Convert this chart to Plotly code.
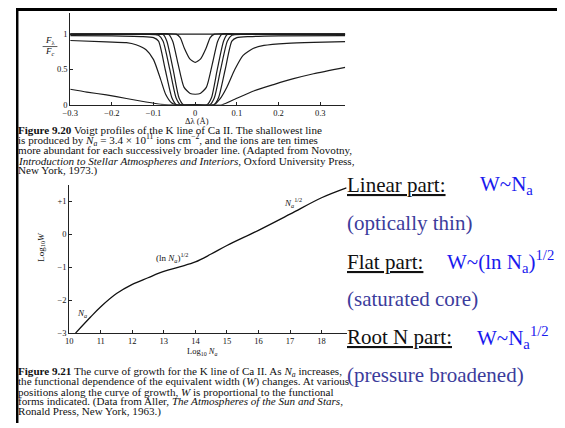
import plotly.graph_objects as go

# ---------------- data: Figure 9.20 Voigt profiles (delta lambda in Angstrom, F_lambda/F_c) -------------
cont_dl = [-0.30, 0.36]
cont_f = [1.0, 1.0]

p0_dl = [-0.30, -0.10, -0.046, -0.036, -0.026, -0.013, 0.0, 0.013, 0.026, 0.036, 0.046, 0.10, 0.36]
p0_f = [1.0, 1.0, 1.0, 0.95, 0.80, 0.65, 0.60, 0.65, 0.80, 0.95, 1.0, 1.0, 1.0]

p1_dl = [-0.30, -0.10, -0.064, -0.054, -0.041, -0.027, -0.012, 0.0, 0.012, 0.027, 0.041, 0.054, 0.064, 0.10, 0.36]
p1_f = [1.0, 1.0, 1.0, 0.90, 0.575, 0.25, 0.16, 0.15, 0.16, 0.25, 0.575, 0.90, 1.0, 1.0, 1.0]

p2_dl = [-0.30, -0.10, -0.077, -0.068, -0.053, -0.039, -0.028, 0.0, 0.028, 0.039, 0.053, 0.068, 0.077, 0.10, 0.36]
p2_f = [1.0, 1.0, 0.995, 0.90, 0.50, 0.10, 0.0, 0.0, 0.0, 0.10, 0.50, 0.90, 0.995, 1.0, 1.0]

p3_dl = [-0.30, -0.12, -0.088, -0.077, -0.061, -0.046, -0.035, 0.0, 0.035, 0.046, 0.061, 0.077, 0.088, 0.12, 0.36]
p3_f = [0.995, 0.995, 0.985, 0.90, 0.50, 0.10, 0.0, 0.0, 0.0, 0.10, 0.50, 0.90, 0.985, 0.995, 0.995]

p4_dl = [-0.30, -0.20, -0.13, -0.10, -0.088, -0.072, -0.056, -0.045, 0.0, 0.045, 0.056, 0.072, 0.088, 0.10, 0.13, 0.20, 0.36]
p4_f = [0.98, 0.975, 0.965, 0.95, 0.90, 0.50, 0.10, 0.0, 0.0, 0.0, 0.10, 0.50, 0.90, 0.95, 0.965, 0.975, 0.98]

p5_dl = [-0.30, -0.213, -0.165, -0.142, -0.118, -0.100, -0.083, -0.071, -0.057, -0.045, 0.0,
         0.045, 0.059, 0.076, 0.095, 0.115, 0.140, 0.165, 0.220, 0.284, 0.36]
p5_f = [0.91, 0.89, 0.88, 0.85, 0.78, 0.64, 0.36, 0.15, 0.03, 0.0, 0.0,
        0.0, 0.08, 0.25, 0.50, 0.70, 0.80, 0.84, 0.87, 0.885, 0.895]

p6_dl = [-0.30, -0.26, -0.213, -0.165, -0.118, -0.083, -0.064, 0.0, 0.064, 0.095, 0.142, 0.190, 0.236, 0.284, 0.36]
p6_f = [0.22, 0.18, 0.14, 0.09, 0.04, 0.008, 0.0, 0.0, 0.0, 0.08, 0.20, 0.29, 0.37, 0.44, 0.53]

top_xticks = [-0.3, -0.2, -0.1, 0.0, 0.1, 0.2, 0.3]
top_xticktext = ["\u22120.3", "\u22120.2", "\u22120.1", "0", "0.1", "0.2", "0.3"]
top_yticks = [0, 0.5, 1]
top_yticktext = ["0", "0.5", "1"]

# ---------------- data: Figure 9.21 curve of growth (log10 Na, log10 W) -------------
cog_logN = [10.20, 10.67, 11.00, 11.50, 12.00, 12.50, 13.00, 13.50, 14.00, 14.50, 15.00, 16.00, 17.00, 18.00, 18.79]
cog_logW = [-3.00, -2.52, -2.20, -1.80, -1.52, -1.32, -1.13, -0.99, -0.84, -0.60, -0.34, 0.12, 0.61, 1.11, 1.41]

bot_xticks = [10, 11, 12, 13, 14, 15, 16, 17, 18]
bot_yticks = [-3, -2, -1, 0, 1]
bot_yticktext = ["\u22123", "\u22122", "\u22121", "0", "+1"]

caption_920 = [
    "<b>Figure 9.20</b> Voigt profiles of the K line of Ca II. The shallowest line",
    "is produced by <i>N<sub>a</sub></i> = 3.4 \u00d7 10<sup>11</sup> ions cm<sup>\u22122</sup>, and the ions are ten times",
    "more abundant for each successively broader line. (Adapted from Novotny,",
    "<i>Introduction to Stellar Atmospheres and Interiors</i>, Oxford University Press,",
    "New York, 1973.)",
]
caption_921 = [
    "<b>Figure 9.21</b> The curve of growth for the K line of Ca II. As <i>N<sub>a</sub></i> increases,",
    "the functional dependence of the equivalent width (<i>W</i>) changes. At various",
    "positions along the curve of growth, <i>W</i> is proportional to the functional",
    "forms indicated. (Data from Aller, <i>The Atmospheres of the Sun and Stars</i>,",
    "Ronald Press, New York, 1963.)",
]

notes_black = ["<u>Linear part:</u>", "<u>Flat part:</u>", "<u>Root N part:</u>"]
notes_blue = ["W~N<sub>a</sub>", "W~(ln N<sub>a</sub>)<sup>1/2</sup>", "W~N<sub>a</sub><sup>1/2</sup>"]
notes_slate = ["(optically thin)", "(saturated core)", "(pressure broadened)"]

# ---------------- figure -------------
# The page body keeps its default 8 px margin, so the figure is 8 px smaller than the window
# and every layout position below is given in window pixels and shifted by that margin.
WIN_W, WIN_H, OFF = 565, 428, 8
W, H = WIN_W - OFF, WIN_H - OFF


def PX(x):
    return (x - OFF) / W


def PY(y):
    return 1 - (y - OFF) / H


SERIF = "Liberation Serif"
fig = go.Figure()

profiles = [(cont_dl, cont_f), (p0_dl, p0_f), (p1_dl, p1_f), (p2_dl, p2_f),
            (p3_dl, p3_f), (p4_dl, p4_f), (p5_dl, p5_f), (p6_dl, p6_f)]
for dl, f in profiles:
    fig.add_trace(go.Scatter(x=dl, y=f, mode="lines", xaxis="x", yaxis="y",
                             line=dict(color="#1c1c1c", width=1.2, shape="spline", smoothing=0.6),
                             showlegend=False, hoverinfo="skip"))

fig.add_trace(go.Scatter(x=cog_logN, y=cog_logW, mode="lines", xaxis="x2", yaxis="y2",
                         line=dict(color="#111111", width=1.3, shape="spline", smoothing=1.0),
                         showlegend=False, hoverinfo="skip"))

axis_common = dict(showline=True, linecolor="#222222", linewidth=1, ticks="inside", ticklen=3,
                   tickcolor="#222222", showgrid=False, zeroline=False,
                   tickfont=dict(family=SERIF, size=8.5, color="#111111"))

fig.update_layout(
    width=W, height=H, autosize=False,
    margin=dict(l=0, r=0, t=0, b=0),
    paper_bgcolor="white", plot_bgcolor="white",
    xaxis=dict(domain=[PX(63), PX(342)], range=[-0.30, 0.36], anchor="y",
               tickvals=top_xticks, ticktext=top_xticktext, **axis_common),
    yaxis=dict(domain=[PY(106), PY(13)], range=[0, 1.30], anchor="x",
               tickvals=top_yticks, ticktext=top_yticktext, **axis_common),
    xaxis2=dict(domain=[PX(62), PX(343.6)], range=[10, 18.8], anchor="y2",
                tickvals=bot_xticks, **axis_common),
    yaxis2=dict(domain=[PY(337), PY(187)], range=[-3, 1.5], anchor="x2",
                tickvals=bot_yticks, ticktext=bot_yticktext, **axis_common),
)

ann = []
def A(x, y, text, size=9, color="#111111", family=SERIF, xanchor="center", **kw):
    ann.append(dict(x=PX(x), y=PY(y), xref="paper", yref="paper", text=text, showarrow=False,
                    xanchor=xanchor, yanchor="middle", borderpad=0,
                    font=dict(family=family, size=size, color=color), **kw))

# top figure axis titles
A(43, 41, "<i>F</i><sub>\u03bb</sub>", size=9)
A(43, 52, "<i>F</i><sub><i>c</i></sub>", size=9)
A(192, 122, "\u0394\u03bb (\u00c5)", size=8.5)

# bottom figure axis titles and curve labels
A(197, 356, "Log<sub>10</sub> <i>N<sub>a</sub></i>", size=8.5)
A(33, 250, "Log<sub>10</sub><i>W</i>", size=9, textangle=-90)
A(75, 317, "<i>N<sub>a</sub></i>", size=9)
A(166, 261, "(ln <i>N<sub>a</sub></i>)<sup>1/2</sup>", size=9)
A(289, 205, "<i>N<sub>a</sub></i><sup>1/2</sup>", size=9)

# captions
for i, line in enumerate(caption_920):
    A(9, 131.5 + i * 10.3, line, size=11.1, xanchor="left")
for i, line in enumerate(caption_921):
    A(9, 376 + i * 10.2, line, size=11.1, xanchor="left")

# right-hand notes
for y, t in zip([187, 265, 341], notes_black):
    A(343, y, t, size=21, color="#111111", xanchor="left")
for x, y, t in zip([478, 444, 475], [187, 265, 341], notes_blue):
    A(x, y, t, size=21, color="#1a1aee", xanchor="left")
for y, t in zip([226, 302, 379], notes_slate):
    A(343, y, t, size=21, color="#3c3c9c", xanchor="left")

fig.update_layout(annotations=ann)

shapes = [
    # fraction bar of F_lambda / F_c
    dict(type="line", xref="paper", yref="paper", x0=PX(35), x1=PX(50), y0=PY(47), y1=PY(47),
         line=dict(color="#333333", width=0.8)),
    # slide borders (top edge and left edge)
    dict(type="rect", xref="paper", yref="paper", x0=PX(8), x1=PX(565), y0=PY(11), y1=PY(8),
         fillcolor="black", line=dict(width=0), layer="above"),
    dict(type="rect", xref="paper", yref="paper", x0=PX(8), x1=PX(10.5), y0=PY(428), y1=PY(8),
         fillcolor="black", line=dict(width=0), layer="above"),
]
fig.update_layout(shapes=shapes)

fig.write_html("out.html", config={"displayModeBar": False})
